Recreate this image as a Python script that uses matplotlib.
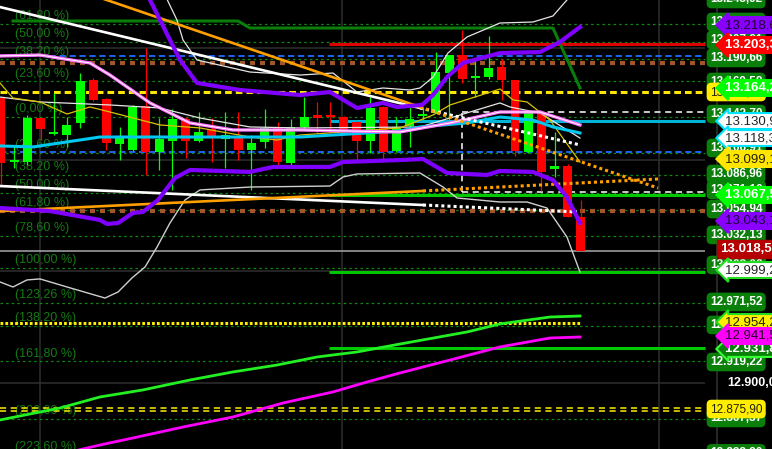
import matplotlib
matplotlib.use("Agg")
import matplotlib.pyplot as plt
import numpy as np

# ---- candles (one per bar, index 0..44) ----
opens = [13155.2, 13097.9, 13097.9, 13137.3, 13123.0, 13122.1, 13132.9, 13171.4, 13154.3, 13114.0,
         13108.7, 13148.1, 13106.9, 13116.7, 13136.4, 13116.7, 13127.5, 13118.5, 13120.3, 13108.7,
         13115.8, 13128.4, 13097.0, 13129.3, 13140.0, 13140.0, 13138.2, 13133.7, 13116.7, 13147.2,
         13107.8, 13130.2, 13139.1, 13141.8, 13177.6, 13193.7, 13173.2, 13174.0, 13183.0, 13171.4,
         13106.9, 13142.7, 13091.7, 13094.3, 13048.7]
highs = [13156.1, 13111.4, 13140.0, 13138.2, 13159.7, 13138.2, 13177.6, 13173.2, 13155.2, 13129.3,
         13149.0, 13200.0, 13137.3, 13145.4, 13138.2, 13142.7, 13137.3, 13142.7, 13142.7, 13122.1,
         13145.4, 13133.7, 13136.4, 13156.1, 13151.7, 13151.7, 13139.1, 13134.6, 13156.1, 13148.1,
         13138.2, 13147.2, 13147.2, 13196.4, 13193.7, 13216.1, 13190.2, 13210.8, 13190.2, 13171.4,
         13142.7, 13142.7, 13124.8, 13096.1, 13063.9]
lows = [13077.3, 13092.6, 13095.2, 13117.6, 13122.1, 13111.4, 13128.4, 13152.6, 13108.7, 13099.7,
        13107.8, 13086.3, 13090.8, 13072.9, 13101.5, 13115.8, 13097.9, 13092.6, 13099.7, 13072.9,
        13110.5, 13095.2, 13095.2, 13126.6, 13123.9, 13123.9, 13123.0, 13099.7, 13106.0, 13097.9,
        13106.9, 13111.4, 13135.5, 13141.8, 13135.5, 13168.7, 13156.1, 13172.3, 13153.5, 13103.3,
        13106.0, 13072.0, 13084.5, 13048.7, 13018.2]
closes = [13097.0, 13098.8, 13137.3, 13127.5, 13123.9, 13131.1, 13170.5, 13153.5, 13115.0, 13121.2,
          13147.2, 13106.9, 13118.5, 13136.4, 13116.7, 13124.8, 13119.4, 13122.1, 13108.7, 13115.0,
          13128.4, 13097.9, 13129.3, 13138.2, 13137.3, 13138.2, 13126.6, 13116.7, 13146.3, 13106.9,
          13129.3, 13136.4, 13140.0, 13178.5, 13193.7, 13172.3, 13173.6, 13182.1, 13171.4, 13107.8,
          13142.7, 13089.0, 13094.3, 13048.7, 13018.2]

# ---- indicator lines: (bar position, price) vertices ----
purple_up_x = [10.93, 12.82, 13.58, 14.87, 18.13, 22.69, 24.96, 27.01, 28.98, 30.05, 31.94, 32.78,
               33.84, 35.05, 37.86, 40.90, 42.41, 43.93]
purple_up_y = [13252.0, 13207.2, 13189.3, 13168.7, 13162.4, 13157.9, 13160.6, 13146.3, 13150.8, 13147.2,
               13149.0, 13157.9, 13174.0, 13186.6, 13195.5, 13196.4, 13205.4, 13218.8]
purple_lo_x = [-0.08, 3.72, 7.51, 8.04, 8.88, 10.02, 10.77, 11.91, 13.20, 14.34, 18.89, 20.64, 24.96,
               25.95, 30.27, 32.02, 33.84, 36.87, 37.86, 40.36, 41.88, 42.94, 43.93]
purple_lo_y = [13056.7, 13054.0, 13046.0, 13042.4, 13043.3, 13052.3, 13053.2, 13063.9, 13083.6, 13090.8,
               13089.0, 13093.5, 13093.5, 13097.9, 13099.7, 13100.6, 13088.1, 13086.3, 13089.9, 13089.0,
               13081.8, 13066.6, 13043.3]
band_up_x = [12.44, 13.35, 13.81, 14.87, 18.89, 22.69, 25.19, 27.01, 28.98, 31.03, 31.79, 32.78, 33.91,
             35.36, 37.86, 40.36, 41.88, 42.94, 43.55]
band_up_y = [13247.5, 13225.1, 13207.2, 13189.3, 13178.5, 13175.8, 13177.6, 13160.6, 13164.2, 13162.4,
             13164.2, 13174.0, 13195.5, 13209.9, 13222.4, 13223.3, 13228.7, 13243.0, 13252.0]
band_mid_x = [-0.08, 2.96, 8.27, 12.06, 15.10, 18.89, 22.69, 31.79, 34.83, 37.86, 38.62, 40.90, 43.93]
band_mid_y = [13156.1, 13151.7, 13149.0, 13146.3, 13137.3, 13129.3, 13128.4, 13129.3, 13140.0, 13150.8,
              13147.2, 13141.8, 13119.4]
band_lo_x = [-0.08, 0.91, 1.97, 2.96, 5.01, 7.89, 8.88, 9.94, 10.93, 11.84, 12.82, 13.96, 15.10, 18.89,
             24.96, 25.95, 27.01, 31.79, 33.54, 34.60, 37.86, 39.91, 41.43, 42.94, 43.93]
band_lo_y = [12990.5, 12986.0, 12992.3, 12993.2, 12986.0, 12976.1, 12981.5, 12994.1, 13003.9, 13021.8,
             13043.3, 13063.9, 13072.9, 13075.5, 13076.4, 13084.5, 13087.2, 13088.1, 13075.5, 13065.7,
             13062.1, 13062.1, 13056.7, 13030.8, 12999.4]
cyan_x = [-0.08, 2.43, 7.51, 22.69, 30.27, 31.79, 35.36, 37.86, 40.36, 41.88, 43.93]
cyan_y = [13112.3, 13111.4, 13120.3, 13120.3, 13125.7, 13129.3, 13132.9, 13138.2, 13135.5, 13129.3, 13123.9]
pink_x = [-0.08, 2.96, 6.75, 8.27, 11.31, 14.34, 17.60, 22.69, 30.27, 34.07, 37.86, 40.90, 43.93]
pink_y = [13192.9, 13193.7, 13186.6, 13175.8, 13150.8, 13132.9, 13126.6, 13126.6, 13124.8, 13132.9,
          13142.7, 13142.7, 13131.1]
ma_x = [-0.08, 0.91, 2.96, 5.01, 6.75, 8.27, 12.06, 15.10, 18.89, 20.94, 22.69, 30.27, 32.78, 34.07,
        37.86, 38.85, 39.91, 41.65, 43.93]
ma_y = [13168.7, 13155.2, 13151.7, 13140.9, 13147.2, 13142.7, 13131.1, 13128.4, 13120.3, 13117.6,
        13122.1, 13128.4, 13140.0, 13149.0, 13163.3, 13153.5, 13151.7, 13135.5, 13097.9]
slow_green_x = [-0.08, 4.48, 7.51, 10.77, 14.34, 17.60, 20.94, 23.98, 27.01, 30.27, 35.36, 37.86, 41.65, 43.93]
slow_green_y = [12866.9, 12877.6, 12887.5, 12893.8, 12902.7, 12909.9, 12916.1, 12923.3, 12927.8, 12934.9,
                12945.7, 12952.9, 12959.1, 12960.0]
slow_mag_x = [5.24, 7.51, 10.02, 13.81, 17.60, 21.40, 25.19, 27.77, 30.27, 34.07, 37.86, 41.65, 43.93]
slow_mag_y = [12838.2, 12844.5, 12850.8, 12860.6, 12869.6, 12882.1, 12892.0, 12900.9, 12909.0, 12920.6,
              12932.3, 12940.3, 12941.2]
step_x = [0.91, 17.98, 18.89, 41.88, 43.93]
step_y = [13224.2, 13224.2, 13217.9, 13217.9, 13164.2]

# trend lines: start, break (solid -> dotted), end
white_hi_x = [-0.08, 31.79, 43.93]
white_hi_y = [13236.7, 13146.3, 13113.2]
white_lo_x = [-0.08, 32.02, 43.70]
white_lo_y = [13076.4, 13059.4, 13053.2]
orange_hi_x = [7.13, 31.79, 49.85]
orange_hi_y = [13246.6, 13147.2, 13074.6]
orange_lo_x = [-0.08, 32.02, 49.85]
orange_lo_y = [13054.0, 13072.0, 13082.7]

# fibonacci
fib_zero = 13138.2
fib_hundred = 13003.0
fib_ratios = [-0.618, -0.5, -0.382, -0.236, 0.0, 0.236, 0.382, 0.5, 0.618, 0.786, 1.0,
              1.2326, 1.382, 1.618, 2.0, 2.236]

grid_prices = [13200, 13100, 13000, 12900]
grid_bars = [2.96, 25.87, 49.92]

# right-hand price tags: price position, text, kind
tags = [
    (13243.9, "13.243,92", "rect"), (13223.3, "13.224,21", "rect"), (13207.2, "13.207,21", "rect"),
    (13191.1, "13.190,66", "rect"), (13169.6, "13.169,58", "rect"), (13160.6, "13.160,59", "yrect"),
    (13140.9, "13.142,70", "rect"), (13110.5, "13.106,91", "rect"), (13087.2, "13.086,96", "rect"),
    (13072.9, "13.071,10", "rect"), (13055.8, "13.054,94", "rect"), (13032.6, "13.032,13", "rect"),
    (13005.7, "13.003,00", "rect"), (12972.6, "12.971,52", "rect"), (12952.0, "12.953,80", "rect"),
    (12918.8, "12.919,22", "rect"), (12868.7, "12.867,37", "rect"), (12837.0, "12.838,20", "rect"),
    (12876.7, "12.875,90", "yrect"),
    (13220.6, "13.218,6", "purple"), (13202.7, "13.203,3", "red"), (13164.2, "13.164,2", "lime"),
    (13134.6, "13.130,9", "white_c"), (13119.4, "13.118,3", "white_c"), (13100.6, "13.099,1", "yellow"),
    (13068.4, "13.067,5", "lime"), (13045.1, "13.043,1", "purple"), (13020.0, "13.018,53", "darkred"),
    (13001.2, "12.999,2", "white_g"), (12930.5, "12.931,8", "green_a"), (12954.6, "12.954,2", "yellow_g"),
    (12942.1, "12.941,5", "magenta"), (12900.0, "12.900,0", "plain"),
]

BG = "black"
FONT = ["Liberation Sans", "DejaVu Sans"]
plt.rcParams["font.family"] = FONT

fig = plt.figure(figsize=(7.72, 4.49), dpi=100, facecolor=BG)
ax = fig.add_axes([0, 0, 1, 1], facecolor=BG)
ax.set_xlim(-0.076, 58.5)
ax.set_ylim(12840.9, 13243.0)
ax.axis("off")
x_end = 53.41  # right edge of the price area

# grid
ax.hlines(grid_prices, -0.1, x_end, color="#2e2e2e", lw=1.1, zorder=1)
ax.vlines(grid_bars, 12800, 13300, color="#2e2e2e", lw=1.1, zorder=1)
ax.vlines([54.33], 12800, 13300, color="#333333", lw=1.1, zorder=1)

# fibonacci levels
rng = fib_hundred - fib_zero
for r in fib_ratios:
    p = fib_zero + r * rng
    ax.hlines(p, -0.1, x_end, color="#0f8a0f", lw=0.9, linestyles=(0, (2, 2.5)), zorder=2)
    lab = "({:.2f} %)".format(abs(r) * 100).replace(".", ",")
    ax.text(1.1, p + 1.6, lab, color="#137a13", fontsize=9, va="bottom", ha="left", zorder=2)

# horizontal levels
ax.hlines(13018.2, -0.1, x_end, color="#a8a8a8", lw=1.1, zorder=3)
ax.hlines([13192.9, 13106.9], -0.1, x_end, color="#1f6bff", lw=1.3, linestyles=(0, (3.5, 2)), zorder=3)
ax.hlines(13160.6, -0.1, x_end, color="#ffe600", lw=2.2, linestyles=(0, (2.2, 1.3)), zorder=3)
ax.hlines([13186.6, 13054.0], -0.1, x_end, color="#a0562a", lw=3.0, linestyles=(0, (1.2, 1.2)), zorder=3)
ax.hlines(13203.6, 24.89, x_end, color="#dd0000", lw=2.2, zorder=3)
ax.hlines([13068.4, 12999.2, 12931.4], 24.89, x_end, color="#00c800", lw=2.2, zorder=3)
ax.hlines(13134.6, 24.96, x_end, color="#00b4d8", lw=2.2, zorder=3)
ax.hlines([13142.7, 13071.1], 34.98, x_end, color="white", lw=1.1, linestyles=(0, (4, 3)), zorder=3)
ax.vlines(34.98, 13071.1, 13141.8, color="white", lw=1.1, linestyles=(0, (4, 3)), zorder=3)
ax.hlines(12953.8, -0.1, 43.93, color="#ffee00", lw=2.2, linestyles=(0, (0.9, 0.7)), zorder=3)
ax.hlines([12877.6, 12875.0], -0.1, x_end, color="#ffee00", lw=1.1, linestyles=(0, (4, 3)), zorder=3)

# candles
o = np.array(opens); c = np.array(closes)
idx = np.arange(len(o))
up = c >= o
cols = np.where(up, "#00ff00", "#ff0000")
ax.vlines(idx, lows, highs, color=cols, lw=0.9, zorder=5)
body = np.maximum(np.abs(c - o), 1.6)
ax.bar(idx, body, bottom=np.minimum(o, c), width=0.68, color=cols, edgecolor="none", zorder=5)

# indicators
ax.plot(slow_green_x, slow_green_y, color="#22f022", lw=2.0, zorder=6)
ax.plot(slow_mag_x, slow_mag_y, color="#ff00ff", lw=2.0, zorder=6)
ax.plot(step_x, step_y, color="#0a7d0a", lw=2.2, zorder=6)
ax.plot(band_up_x, band_up_y, color="#e6e6e6", lw=0.9, zorder=6)
ax.plot(band_mid_x, band_mid_y, color="#e6e6e6", lw=0.9, zorder=6)
ax.plot(band_lo_x, band_lo_y, color="#cfcfcf", lw=1.0, zorder=6)
ax.plot(ma_x, ma_y, color="#d8c400", lw=0.9, zorder=6)
ax.plot(cyan_x, cyan_y, color="#00c8f0", lw=2.2, zorder=7)
ax.plot(pink_x, pink_y, color="#ff70ff", lw=2.4, zorder=7)
ax.plot(pink_x, pink_y, color="white", lw=0.7, zorder=7)
ax.plot(purple_up_x, purple_up_y, color="#8000ff", lw=3.0, zorder=8)
ax.plot(purple_lo_x, purple_lo_y, color="#8000ff", lw=3.0, zorder=8)

for (xs, ys, col) in [(white_hi_x, white_hi_y, "white"), (white_lo_x, white_lo_y, "white"),
                      (orange_hi_x, orange_hi_y, "#ffa000"), (orange_lo_x, orange_lo_y, "#ffa000")]:
    ax.plot(xs[:2], ys[:2], color=col, lw=1.9, zorder=7)
    ax.plot(xs[1:], ys[1:], color=col, lw=2.2, ls=(0, (1, 1)), zorder=7)

# right-hand tags
styles = {
    "rect": ("#0a800a", "white", None, "round", "bold"),
    "yrect": ("#ffee00", "#222200", None, "round", "normal"),
    "purple": ("#8a00ff", "#1a0033", None, "arrow", "normal"),
    "red": ("#ff0000", "white", None, "arrow", "bold"),
    "lime": ("#00ff00", "white", None, "arrow", "bold"),
    "white_c": ("white", "#222222", "#00e5ff", "arrow", "normal"),
    "yellow": ("#ffe600", "#222200", None, "arrow", "normal"),
    "darkred": ("#b40000", "white", None, "square", "bold"),
    "white_g": ("white", "#222222", "#22dd22", "arrow", "normal"),
    "green_a": ("#0a800a", "white", "#33ff33", "arrow", "bold"),
    "yellow_g": ("#ffee00", "#222200", "#22dd22", "arrow", "normal"),
    "magenta": ("#ff00ff", "#220022", None, "arrow", "normal"),
}
z = 20
for price, text, kind in tags:
    z += 1
    if kind == "plain":
        ax.text(55.08, price, text, color="white", fontsize=9, fontweight="bold",
                va="center", ha="left", zorder=z, clip_on=False)
        continue
    fc, tc, ec, shape, wt = styles[kind]
    if shape == "round":
        box = dict(boxstyle="round,pad=0.22,rounding_size=0.35", fc=fc, ec=ec or fc, lw=1)
        ax.text(53.79, price, text, color=tc, fontsize=8.5, fontweight="bold" if kind == "rect" else "normal",
                va="center", ha="left", bbox=box, zorder=z, clip_on=False)
    elif shape == "square":
        box = dict(boxstyle="square,pad=0.2", fc=fc, ec=fc, lw=1)
        ax.text(54.56, price, text, color=tc, fontsize=9.5, fontweight=wt,
                va="center", ha="left", bbox=box, zorder=z, clip_on=False)
    else:
        box = dict(boxstyle="larrow,pad=0.15", fc=fc, ec=ec or fc, lw=1.5)
        ax.text(54.93, price, text + "   ", color=tc, fontsize=9.5, fontweight=wt,
                va="center", ha="left", bbox=box, zorder=z, clip_on=False)

fig.savefig("out.png", dpi=100, facecolor=BG)
